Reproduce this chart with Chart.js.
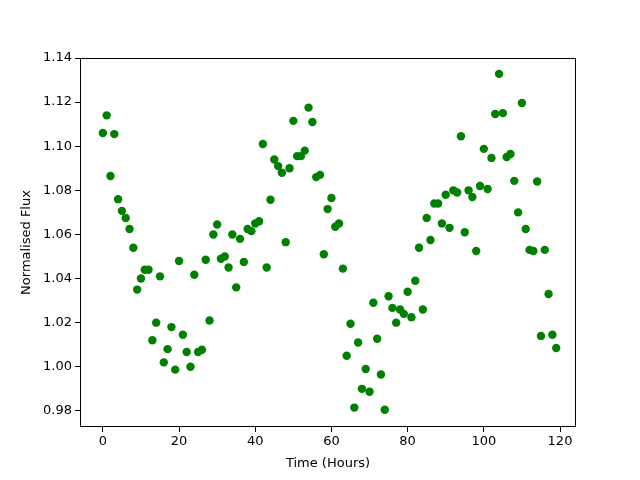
<!DOCTYPE html>
<html>
<head>
<meta charset="utf-8">
<script src="https://cdn.jsdelivr.net/npm/chart.js@4/dist/chart.umd.min.js"></script>
<style>
    body { margin: 0; background: #fff; }
    #wrap { width: 640px; height: 480px; }
</style>
</head>
<body>
<div id="wrap"><canvas id="fluxChart" width="640" height="480"></canvas></div>
<script>
// one reading per hour
const hours = [];
for (let h = 0; h < 120; h++) hours.push(h);

const flux = [
    1.106, 1.114, 1.0865, 1.1055, 1.076, 1.0707, 1.0675, 1.0625, 1.054, 1.035,
    1.040, 1.044, 1.044, 1.012, 1.020, 1.041, 1.002, 1.008, 1.018, 0.9987,
    1.048, 1.0145, 1.0067, 1.000, 1.0417, 1.0067, 1.0077, 1.0485, 1.021, 1.060,
    1.0645, 1.049, 1.050, 1.045, 1.060, 1.036, 1.058, 1.0475, 1.0625, 1.0615,
    1.065, 1.066, 1.101, 1.045, 1.0757, 1.094, 1.091, 1.088, 1.0565, 1.090,
    1.1115, 1.0955, 1.0955, 1.098, 1.1175, 1.111, 1.086, 1.087, 1.051, 1.0715,
    1.0765, 1.0635, 1.065, 1.0445, 1.005, 1.0195, 0.9815, 1.011, 0.990, 0.999,
    0.9887, 1.029, 1.0127, 0.9965, 0.9805, 1.032, 1.0267, 1.020, 1.026, 1.024,
    1.034, 1.0225, 1.039, 1.054, 1.026, 1.0675, 1.0575, 1.074, 1.074, 1.065,
    1.078, 1.063, 1.080, 1.079, 1.1045, 1.061, 1.080, 1.077, 1.0525, 1.082,
    1.0988, 1.0806, 1.0947, 1.1146, 1.1328, 1.115, 1.0951, 1.0965, 1.0843, 1.070,
    1.1196, 1.0625, 1.053, 1.0525, 1.084, 1.014, 1.053, 1.033, 1.0145, 1.0085
];

const xTicks = [0, 20, 40, 60, 80, 100, 120];
const yTicks = [0.98, 1.00, 1.02, 1.04, 1.06, 1.08, 1.10, 1.12, 1.14];

const points = [];
for (var i = 0; i < hours.length; i++) {
    points.push({x: hours[i], y: flux[i]});
}

const fontFamily = "'DejaVu Sans', sans-serif";

// matplotlib style box round the plot
const frameBox = {
    id: 'frameBox',
    afterDraw(chart) {
        const a = chart.chartArea;
        const ctx = chart.ctx;
        ctx.save();
        ctx.strokeStyle = '#000';
        ctx.lineWidth = 1;
        ctx.strokeRect(a.left + 0.5, a.top + 0.5, a.right - a.left - 1, a.bottom - a.top - 1);
        ctx.restore();
    }
};

new Chart("fluxChart", {
    type: "scatter",
    data: {
        datasets: [{
            data: points,
            backgroundColor: "#008000",
            borderColor: "#008000",
            pointRadius: 4.2,
            pointHoverRadius: 4.2,
            borderWidth: 0
        }]
    },
    options: {
        responsive: false,
        animation: false,
        layout: {padding: {top: 58, right: 64, left: 0, bottom: 0}},
        plugins: {legend: {display: false}, tooltip: {enabled: false}},
        scales: {
            x: {
                type: "linear",
                min: -6,
                max: 124.2,
                afterBuildTicks: function (axis) {
                    axis.ticks = xTicks.map(v => ({value: v}));
                },
                afterFit: function (axis) { axis.height = 53; },
                grid: {drawOnChartArea: false, drawTicks: true, tickLength: 5, tickColor: "#000"},
                border: {display: false},
                ticks: {color: "#000", font: {family: fontFamily, size: 13}, padding: 2, maxRotation: 0},
                title: {display: true, text: "Time (Hours)", color: "#000", font: {family: fontFamily, size: 13}, padding: {top: 2, bottom: 9}}
            },
            y: {
                type: "linear",
                min: 0.9727,
                max: 1.14,
                afterBuildTicks: function (axis) {
                    axis.ticks = yTicks.map(v => ({value: v}));
                },
                afterFit: function (axis) { axis.width = 80; },
                grid: {drawOnChartArea: false, drawTicks: true, tickLength: 5, tickColor: "#000"},
                border: {display: false},
                ticks: {
                    color: "#000",
                    font: {family: fontFamily, size: 13},
                    padding: 3,
                    callback: v => v.toFixed(2)
                },
                title: {display: true, text: "Normalised Flux", color: "#000", font: {family: fontFamily, size: 13}, padding: {top: 19, bottom: 6}}
            }
        }
    },
    plugins: [frameBox]
});
</script>
</body>
</html>
